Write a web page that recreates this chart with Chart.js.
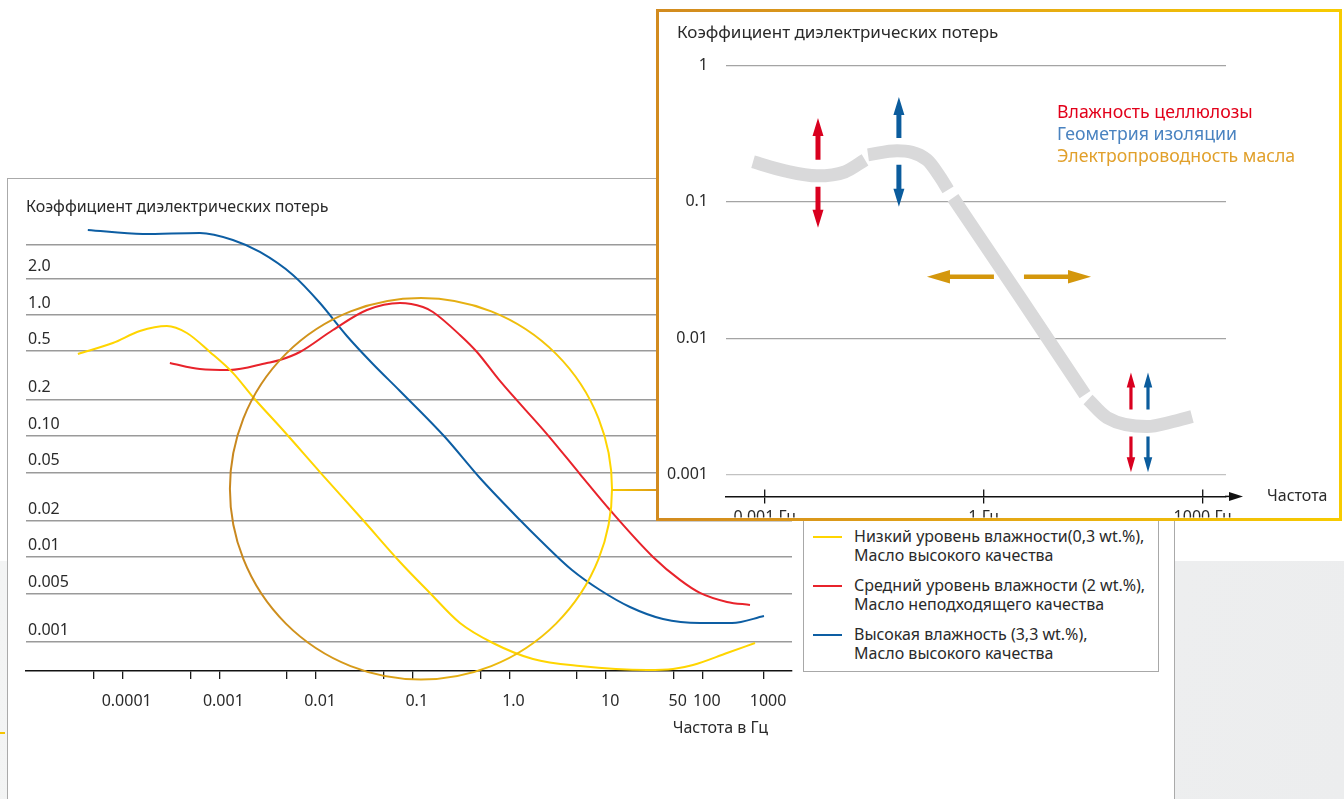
<!DOCTYPE html>
<html lang="ru">
<head>
<meta charset="utf-8">
<title>Коэффициент диэлектрических потерь</title>
<script src="https://cdn.jsdelivr.net/npm/chart.js@4.4.1/dist/chart.umd.min.js"></script>
<style>
  html, body { margin: 0; padding: 0; background: #fff; }
  #page { position: relative; width: 1344px; height: 799px; overflow: hidden; font-family: "Noto Sans", "Open Sans", sans-serif; color: #2a2a2a; }
  #floor { position: absolute; left: 0; top: 561px; width: 1344px; height: 238px; background: linear-gradient(100deg, #f3f4f4, #ecedee); }
  #frame { position: absolute; left: 7px; top: 178px; width: 1168px; height: 700px; box-sizing: border-box; background: #fff; border: 1.5px solid #aaa; }
  #mainCanvas { position: absolute; left: 0; top: 0; }
  #legend { position: absolute; left: 803px; top: 516px; width: 356px; height: 156px; box-sizing: border-box; background: #fff; border: 1.5px solid #a8a8a8; }
  #legend .item { position: absolute; left: 0; width: 100%; height: 38px; }
  #legend .swatch { position: absolute; left: 9px; top: 9px; width: 29px; height: 2px; }
  #legend .txt { position: absolute; left: 50px; top: 0; font: 16px/19px "Noto Sans", "Open Sans", sans-serif; white-space: pre; color: #2a2a2a; }
  #inset { position: absolute; left: 656px; top: 9px; width: 686px; height: 512px; box-sizing: border-box; background: #fff; overflow: hidden;
           border: 3px solid transparent; border-image: linear-gradient(90deg, #d28b1f, #e4a715 50%, #f7cb00) 1; }
  #insetCanvas { position: absolute; left: 0; top: 0; }
  #edgeMark { position: absolute; left: 0; top: 732px; width: 5px; height: 2px; background: #f5c400; }
</style>
</head>
<body>
<div id="page">
  <div id="floor"></div>
  <div id="frame"></div>
  <div id="edgeMark"></div>
  <canvas id="mainCanvas" width="1344" height="799"></canvas>
  <div id="legend"></div>
  <div id="inset"><canvas id="insetCanvas" width="680" height="512"></canvas></div>
</div>
<script>
// ---------- main chart: loss factor vs frequency ----------
const mainTitle = 'Коэффициент диэлектрических потерь';
const mainXTitle = 'Частота в Гц';

const seriesNames = [
  ['Низкий уровень влажности(0,3 wt.%),', 'Масло высокого качества'],
  ['Средний уровень влажности (2 wt.%),', 'Масло неподходящего качества'],
  ['Высокая влажность (3,3 wt.%),', 'Масло высокого качества']
];
const seriesColors = ['#ffd500', '#e8232b', '#0d5ea3'];

// low moisture, good oil
const lowFreq = [3.44e-5, 7.91e-5, 1.505e-4, 2.864e-4, 4.61e-4, 7.97e-4, 1.379e-3, 2.221e-3, 4.54e-3, 0.01096, 0.03051,
                 0.0737, 0.1505, 0.3076, 0.675, 1.751, 5.36, 26.45, 49.1, 79.1, 177.8, 346.4];
const lowLoss = [0.474, 0.584, 0.734, 0.807, 0.707, 0.493, 0.331, 0.2094, 0.1118, 0.0503, 0.0202,
                 0.0091, 0.00505, 0.002853, 0.001951, 0.001439, 0.00126, 0.001168, 0.00119, 0.001284, 0.001613, 0.001951];
// medium moisture, poor oil
const midFreq = [3.076e-4, 6.286e-4, 1.284e-3, 3.101e-3, 4.225e-3, 6.806e-3, 0.01494, 0.03356, 0.0737, 0.1274, 0.1616,
                 0.3076, 0.4611, 0.7975, 2.443, 5.36, 10.96, 30.51, 58.03, 93.45, 177.8, 307.5];
const midLoss = [0.3997, 0.3566, 0.3499, 0.3997, 0.4231, 0.4927, 0.7485, 1.0947, 1.2504, 1.159, 1.0539,
                 0.6807, 0.4927, 0.284, 0.1036, 0.04844, 0.02444, 0.01002, 0.006473, 0.005056, 0.004261, 0.004024];
// high moisture, good oil
const highFreq = [4.36e-5, 1.617e-4, 6.286e-4, 1.379e-3, 2.624e-3, 5.76e-3, 0.01096, 0.02084, 0.0387, 0.0737, 0.2151,
                  0.4953, 1.284, 2.068, 4.432, 8.636, 17.64, 38.71, 93.45, 200.3, 429.1];
const highLoss = [5.01, 4.642, 4.732, 4.142, 3.297, 2.129, 1.2504, 0.668, 0.3923, 0.2348, 0.0979,
                  0.04491, 0.02021, 0.01382, 0.007812, 0.005341, 0.003867, 0.003078, 0.002852, 0.002852, 0.003258];

const xTickValues = [5e-5, 1e-4, 5e-4, 1e-3, 5e-3, 0.01, 0.05, 0.1, 0.5, 1, 5, 10, 50, 100, 430];
const xTickLabels = ['', '0.0001', '', '0.001', '', '0.01', '', '0.1', '', '1.0', '', '10', '50', '100', '1000'];
const yTickValues = [3.8, 2, 1, 0.5, 0.2, 0.1, 0.05, 0.02, 0.01, 0.005, 0.002];
const yTickLabels = ['', '2.0', '1.0', '0.5', '0.2', '0.10', '0.05', '0.02', '0.01', '0.005', '0.001'];

// highlighted region: frequency span, loss span, and level of the link to the detail panel
const focusFreq = [0.001285, 11.5];
const focusLoss = [1.375, 0.000975];
const focusLinkLoss = 0.0358;

// ---------- detail panel: generalised curve and influencing factors ----------
const insetTitle = 'Коэффициент диэлектрических потерь';
const insetXTitle = 'Частота';
const insetXTicks = [0.001, 1, 1000];
const insetXLabels = ['0.001 Гц', '1 Гц', '1000 Гц'];
const insetYTicks = [1, 0.1, 0.01, 0.001];
const insetYLabels = ['1', '0.1', '0.01', '0.001'];
// null values split the band into its pieces
const curveFreq = [6.92e-4, 1.90e-3, 5.20e-3, 0.01259, 0.02366, 0.025, 0.02602, 0.0649, 0.1673, 0.2520, 0.3243, 0.35,
                   0.3797, 3.045, 24.42, 25.5, 26.84, 48.87, 172.6, 391.9, 713.6];
const curveLoss = [0.197, 0.169, 0.1554, 0.1663, 0.2036, null, 0.2215, 0.2369, 0.2036, 0.1528, 0.1227, null,
                   0.1073, 0.02054, 0.003866, null, 0.003553, 0.002622, 0.002253, 0.002451, 0.002667];

const factorNames = ['Влажность целлюлозы', 'Геометрия изоляции', 'Электропроводность масла'];
const factorColors = ['#e2001a', '#4a83c0', '#e1a02b'];
const arrowColors = ['#d9001f', '#0b5c9d', '#d4970c'];
// vertical arrows: [frequency, tail value, tip value]
const celluloseArrows = [[0.00537, 0.204, 0.4135], [0.00537, 0.129, 0.0647], [104, 0.0030, 0.0056], [104, 0.0019, 0.00104]];
const geometryArrows = [[0.0689, 0.295, 0.589], [0.0689, 0.187, 0.0922], [178, 0.0030, 0.0056], [178, 0.0019, 0.00104]];
// horizontal arrows: [value, tail frequency, tip frequency]
const oilArrows = [[0.0283, 1.38, 0.167], [0.0283, 3.56, 29.5]];

const FONT = '"Noto Sans", "Open Sans", sans-serif';
const TEXT = '#2a2a2a';

function fixedTicks(values) {
  return scale => { scale.ticks = values.map(v => ({ value: v })); };
}
function pts(xs, ys) { return xs.map((x, i) => ({ x: x, y: ys[i] })); }

function drawArrow(ctx, x1, y1, x2, y2, shaft, headW, headL, color) {
  const dx = x2 - x1, dy = y2 - y1, len = Math.hypot(dx, dy);
  const ux = dx / len, uy = dy / len, nx = -uy, ny = ux;
  const bx = x2 - ux * headL, by = y2 - uy * headL;
  ctx.fillStyle = color;
  ctx.beginPath();
  ctx.moveTo(x1 + nx * shaft / 2, y1 + ny * shaft / 2);
  ctx.lineTo(bx + nx * shaft / 2, by + ny * shaft / 2);
  ctx.lineTo(bx + nx * headW / 2, by + ny * headW / 2);
  ctx.lineTo(x2, y2);
  ctx.lineTo(bx - nx * headW / 2, by - ny * headW / 2);
  ctx.lineTo(bx - nx * shaft / 2, by - ny * shaft / 2);
  ctx.lineTo(x1 - nx * shaft / 2, y1 - ny * shaft / 2);
  ctx.closePath();
  ctx.fill();
}

const mainDecor = {
  id: 'mainDecor',
  afterDraw(chart) {
    const { ctx, chartArea: a, scales: { x, y } } = chart;
    ctx.save();
    ctx.font = '16px ' + FONT;
    ctx.fillStyle = TEXT;
    ctx.textBaseline = 'middle';
    ctx.textAlign = 'left';
    ctx.fillText(mainTitle, 26, 207);
    ctx.textAlign = 'right';
    ctx.fillText(mainXTitle, a.right - 24, 728);

    // highlight ring
    const x1 = x.getPixelForValue(focusFreq[0]), x2 = x.getPixelForValue(focusFreq[1]);
    const y1 = y.getPixelForValue(focusLoss[0]), y2 = y.getPixelForValue(focusLoss[1]);
    const cx = (x1 + x2) / 2, cy = (y1 + y2) / 2;
    const g = ctx.createLinearGradient(x1, 0, x2, 0);
    g.addColorStop(0, '#c8871f');
    g.addColorStop(0.5, '#dfa617');
    g.addColorStop(1, '#ffd600');
    ctx.strokeStyle = g;
    ctx.lineWidth = 2;
    ctx.beginPath();
    ctx.ellipse(cx, cy, (x2 - x1) / 2, (y2 - y1) / 2, 0, 0, Math.PI * 2);
    ctx.stroke();

    // link to the detail panel
    const ly = y.getPixelForValue(focusLinkLoss);
    const lg = ctx.createLinearGradient(x2, 0, x2 + 50, 0);
    lg.addColorStop(0, '#f7c800');
    lg.addColorStop(1, '#d9961c');
    ctx.strokeStyle = lg;
    ctx.lineWidth = 2;
    ctx.beginPath();
    ctx.moveTo(x2, ly);
    ctx.lineTo(a.right, ly);
    ctx.stroke();
    ctx.restore();
  }
};

const mainChart = new Chart(document.getElementById('mainCanvas'), {
  type: 'line',
  data: {
    datasets: [
      { label: seriesNames[0].join(' '), data: pts(lowFreq, lowLoss), borderColor: seriesColors[0] },
      { label: seriesNames[1].join(' '), data: pts(midFreq, midLoss), borderColor: seriesColors[1] },
      { label: seriesNames[2].join(' '), data: pts(highFreq, highLoss), borderColor: seriesColors[2] }
    ]
  },
  options: {
    responsive: false,
    animation: false,
    events: [],
    layout: { padding: { left: 26, right: 552, top: 222, bottom: 68 } },
    elements: {
      line: { borderWidth: 2, cubicInterpolationMode: 'monotone', fill: false, borderJoinStyle: 'round' },
      point: { radius: 0 }
    },
    plugins: { legend: { display: false }, tooltip: { enabled: false }, title: { display: false } },
    scales: {
      x: {
        type: 'logarithmic', position: 'bottom', bounds: 'data', min: 1e-5, max: 836,
        afterBuildTicks: fixedTicks(xTickValues),
        afterFit: s => { s.height = 60; },
        grid: { drawOnChartArea: false, drawTicks: true, tickLength: 8, color: '#1a1a1a', lineWidth: 1.3 },
        border: { display: true, color: '#111', width: 1.5 },
        ticks: {
          autoSkip: false, maxRotation: 0, minRotation: 0, padding: 13, labelOffset: 4, color: TEXT,
          font: { family: FONT, size: 16 },
          callback: (v, i) => xTickLabels[i]
        }
      },
      y: {
        type: 'logarithmic', position: 'left', bounds: 'data', min: 0.001146, max: 5.83,
        afterBuildTicks: fixedTicks(yTickValues),
        afterFit: s => { s.width = 0; },
        grid: { drawTicks: false, color: '#9a9a9a', lineWidth: 1.5 },
        border: { display: false },
        ticks: {
          mirror: true, padding: 2, labelOffset: -11.5, color: TEXT,
          font: { family: FONT, size: 16 },
          callback: (v, i) => yTickLabels[i]
        }
      }
    }
  },
  plugins: [mainDecor]
});

// legend box built from the chart's datasets
const legendEl = document.getElementById('legend');
mainChart.data.datasets.forEach((ds, i) => {
  const item = document.createElement('div');
  item.className = 'item';
  item.style.top = (10 + i * 49) + 'px';
  const sw = document.createElement('span');
  sw.className = 'swatch';
  sw.style.background = ds.borderColor;
  const tx = document.createElement('span');
  tx.className = 'txt';
  tx.textContent = seriesNames[i].join('\n');
  item.appendChild(sw);
  item.appendChild(tx);
  legendEl.appendChild(item);
});

const insetDecor = {
  id: 'insetDecor',
  afterDraw(chart) {
    const { ctx, chartArea: a, scales: { x, y } } = chart;
    ctx.save();
    ctx.textBaseline = 'middle';
    ctx.textAlign = 'left';
    ctx.font = '17px ' + FONT;
    ctx.fillStyle = TEXT;
    ctx.fillText(insetTitle, 18, 21.5);
    ctx.font = '16px ' + FONT;
    ctx.fillText(insetXTitle, 608, a.bottom);

    // axis arrow and upper halves of the tick marks
    ctx.strokeStyle = '#111';
    ctx.lineWidth = 1.5;
    ctx.beginPath();
    ctx.moveTo(a.right - 1, a.bottom);
    ctx.lineTo(a.right + 6, a.bottom);
    ctx.stroke();
    ctx.fillStyle = '#111';
    ctx.beginPath();
    ctx.moveTo(a.right + 17, a.bottom);
    ctx.lineTo(a.right + 3, a.bottom - 4.5);
    ctx.lineTo(a.right + 3, a.bottom + 4.5);
    ctx.closePath();
    ctx.fill();
    ctx.lineWidth = 1.3;
    insetXTicks.forEach(v => {
      const px = x.getPixelForValue(v);
      ctx.beginPath();
      ctx.moveTo(px, a.bottom);
      ctx.lineTo(px, a.bottom - 7);
      ctx.stroke();
    });

    // factor captions
    ctx.font = '17.7px ' + FONT;
    factorNames.forEach((t, i) => {
      ctx.fillStyle = factorColors[i];
      ctx.fillText(t, 398, 101 + i * 22);
    });

    // shift arrows
    const vArrow = (list, color) => list.forEach(([f, from, to]) => {
      const px = x.getPixelForValue(f);
      const small = f > 10;
      drawArrow(ctx, px, y.getPixelForValue(from), px, y.getPixelForValue(to),
        small ? 3.2 : 5, small ? 8.5 : 11, small ? 15 : 18, color);
    });
    vArrow(celluloseArrows, arrowColors[0]);
    vArrow(geometryArrows, arrowColors[1]);
    oilArrows.forEach(([v, from, to]) => {
      const py = y.getPixelForValue(v);
      drawArrow(ctx, x.getPixelForValue(from), py, x.getPixelForValue(to), py, 4.5, 13.5, 23, arrowColors[2]);
    });
    ctx.restore();
  }
};

new Chart(document.getElementById('insetCanvas'), {
  type: 'line',
  data: {
    datasets: [
      { data: pts(curveFreq, curveLoss), borderColor: '#d9d9da', borderWidth: 13, borderCapStyle: 'butt' },
      { data: pts(curveFreq, curveLoss), borderColor: 'rgba(255,255,255,0.6)', borderWidth: 1, borderDash: [5, 3] }
    ]
  },
  options: {
    responsive: false,
    animation: false,
    events: [],
    layout: { padding: { left: 0, right: 113, top: 42.8, bottom: 0 } },
    elements: {
      line: { cubicInterpolationMode: 'monotone', fill: false, borderJoinStyle: 'round' },
      point: { radius: 0 }
    },
    plugins: { legend: { display: false }, tooltip: { enabled: false } },
    scales: {
      x: {
        type: 'logarithmic', position: 'bottom', bounds: 'data', min: 2.95e-4, max: 2084,
        afterBuildTicks: fixedTicks(insetXTicks),
        afterFit: s => { s.height = 21; },
        grid: { drawOnChartArea: false, drawTicks: true, tickLength: 7, color: '#111', lineWidth: 1.3 },
        border: { display: true, color: '#111', width: 1.5 },
        ticks: {
          autoSkip: false, maxRotation: 0, padding: 4, color: TEXT,
          font: { family: FONT, size: 16 },
          callback: (v, i) => insetXLabels[i]
        }
      },
      y: {
        type: 'logarithmic', position: 'left', bounds: 'data', min: 6.92e-4, max: 1.2,
        afterBuildTicks: fixedTicks(insetYTicks),
        afterFit: s => { s.width = 67; },
        grid: {
          drawTicks: false, lineWidth: 1.3,
          color: c => (c.tick && c.tick.value === 0.001) ? '#c2c2c2' : '#a4a4a4'
        },
        border: { display: false },
        ticks: {
          padding: 18, color: TEXT,
          font: { family: FONT, size: 16 },
          callback: (v, i) => insetYLabels[i]
        }
      }
    }
  },
  plugins: [insetDecor]
});
</script>
</body>
</html>
